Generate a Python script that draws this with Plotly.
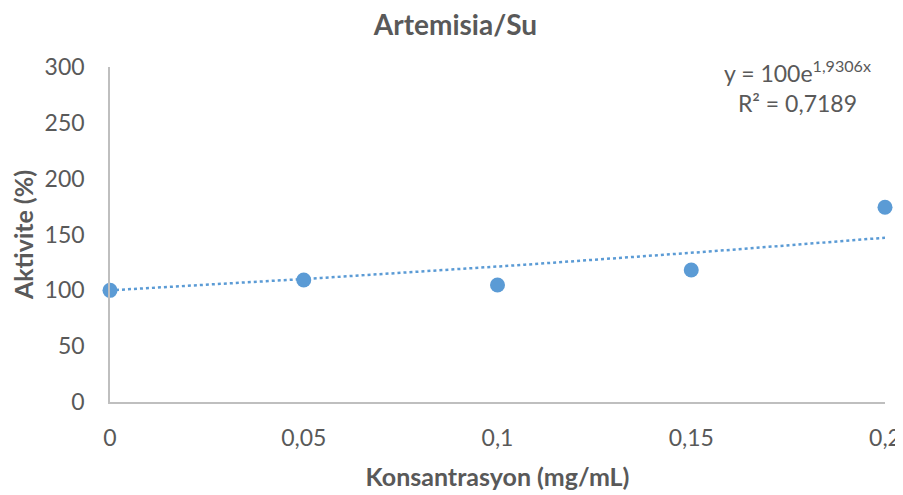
import numpy as np
import plotly.graph_objects as go

# data
konsantrasyon = [0, 0.05, 0.1, 0.15, 0.2]
aktivite = [100, 109.3, 104.8, 118.2, 174.4]

# exponential trendline shown on the chart: y = a * e^(b x)
trend_a = 100
trend_b = 1.9306
trend_r2 = "0,7189"

x_ticks = [0, 0.05, 0.1, 0.15, 0.2]
x_tick_labels = ["0", "0,05", "0,1", "0,15", "0,2"]
y_ticks = [0, 50, 100, 150, 200, 250, 300]

blue = "#5B9BD5"
grey_text = "#595959"
axis_grey = "#BFBFBF"
font = "Lato"

xs = np.linspace(min(konsantrasyon), max(konsantrasyon), 100)
trend = trend_a * np.exp(trend_b * xs)

fig = go.Figure()
fig.add_trace(go.Scatter(x=xs, y=trend, mode="lines",
                         line=dict(color=blue, width=2.5, dash="dot"),
                         hoverinfo="skip", cliponaxis=False))
fig.add_trace(go.Scatter(x=konsantrasyon, y=aktivite, mode="markers",
                         marker=dict(color=blue, size=15),
                         cliponaxis=False))

# page body has an 8px margin, so the figure is drawn 8px smaller
fig.update_layout(
    width=895, height=487,
    margin=dict(l=102, r=18, t=59, b=93),
    plot_bgcolor="white", paper_bgcolor="white",
    showlegend=False,
    font=dict(family=font, color=grey_text, size=23),
    title=dict(text="<b>Artemisia/Su</b>", x=0.5, xanchor="center",
               y=0.965, yanchor="middle",
               font=dict(family=font, size=28, color=grey_text)),
)
fig.update_xaxes(range=[0, 0.2], tickvals=x_ticks, ticktext=x_tick_labels,
                 showgrid=False, zeroline=False, showline=True,
                 linecolor=axis_grey, linewidth=1.5, ticks="",
                 ticklabelstandoff=15, automargin=False,
                 title=dict(text="<b>Konsantrasyon (mg/mL)</b>", standoff=18,
                            font=dict(family=font, size=25, color=grey_text)))
fig.update_yaxes(range=[0, 300], tickvals=y_ticks,
                 showgrid=False, zeroline=False, showline=True,
                 linecolor=axis_grey, linewidth=1.5, ticks="",
                 ticklabelstandoff=19, automargin=False,
                 title=dict(text="<b>Aktivite (%)</b>", standoff=6,
                            font=dict(family=font, size=25, color=grey_text)))

eq_text = f"y = {trend_a}e<sup>{str(trend_b).replace('.', ',')}x</sup><br>R² = {trend_r2}"
fig.add_annotation(text=eq_text, xref="paper", yref="paper",
                   x=0.887, y=1.04, xanchor="center", yanchor="top",
                   align="center", showarrow=False,
                   font=dict(size=23, color=grey_text))

fig.write_html("out.html")
